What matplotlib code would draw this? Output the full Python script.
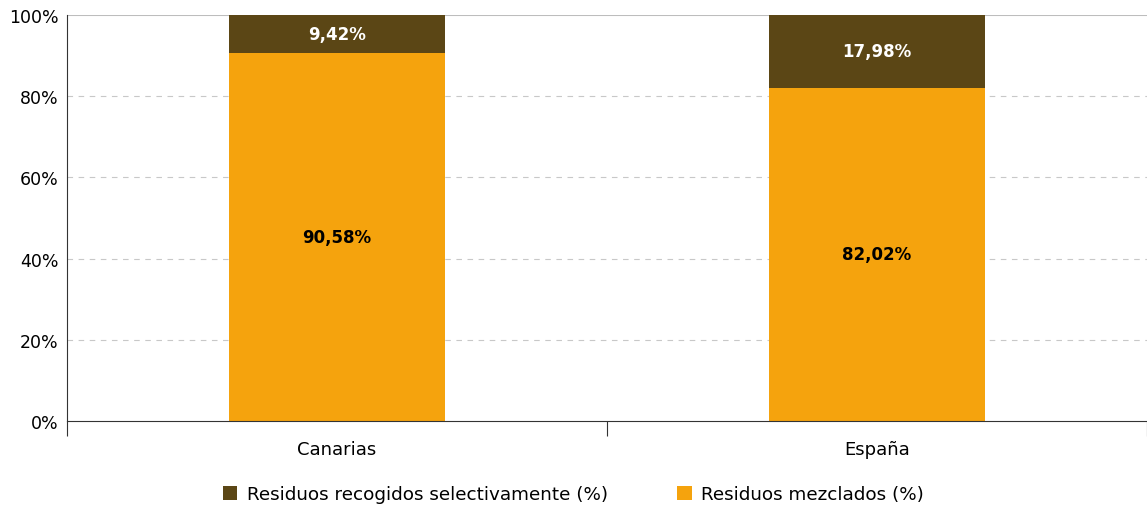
import matplotlib
matplotlib.use("Agg")
import matplotlib.pyplot as plt
from matplotlib.ticker import FuncFormatter

categories = ["Canarias", "España"]
mezclados = [90.58, 82.02]
selectivos = [9.42, 17.98]
labels_mez = ["90,58%", "82,02%"]
labels_sel = ["9,42%", "17,98%"]
yticks = [0, 20, 40, 60, 80, 100]

c_sel = "#5B4615"
c_mez = "#F5A30D"

plt.rcParams['font.family'] = ['DejaVu Sans']
fig = plt.figure(figsize=(11.47, 5.10), dpi=100)
ax = fig.add_axes([67/1147, 88/510, 1 - 67/1147, (422-16)/510])

x = list(range(len(categories)))
ax.bar(x, mezclados, width=0.4, color=c_mez, zorder=2, label="Residuos mezclados (%)")
ax.bar(x, selectivos, width=0.4, bottom=mezclados, color=c_sel, zorder=2,
       label="Residuos recogidos selectivamente (%)")

for i in x:
    ax.text(i, mezclados[i] / 2, labels_mez[i], ha="center", va="center",
            fontsize=12, fontweight="bold", color="black", zorder=3)
    ax.text(i, mezclados[i] + selectivos[i] / 2, labels_sel[i], ha="center", va="center",
            fontsize=12, fontweight="bold", color="white", zorder=3)

ax.set_xlim(-0.5, 1.5)
ax.set_ylim(0, 100)
ax.set_yticks(yticks)
ax.yaxis.set_major_formatter(FuncFormatter(lambda v, p: f"{int(v)}%"))
ax.tick_params(axis="y", length=0, labelsize=12.5, pad=6)
for v in yticks[1:-1]:
    ax.axhline(v, color="#C8C8C8", linestyle=(0, (5, 5)), linewidth=0.8, zorder=1)
ax.axhline(100, color="#BDBDBD", linewidth=1.5, zorder=1)

ax.set_xticks(x)
ax.set_xticklabels(categories, fontsize=13)
ax.tick_params(axis="x", length=0, pad=14)
ax.set_xticks([-0.5, 0.5, 1.5], minor=True)
ax.tick_params(axis="x", which="minor", length=11, width=0.8, color="#333333")

for s in ["top", "right"]:
    ax.spines[s].set_visible(False)
ax.spines["left"].set_color("#333333")
ax.spines["bottom"].set_color("#333333")
ax.spines["left"].set_linewidth(0.8)
ax.spines["bottom"].set_linewidth(0.8)

handles, lbls = ax.get_legend_handles_labels()
leg = fig.legend(handles[::-1], lbls[::-1], loc="center", bbox_to_anchor=(0.5, 15/510),
                 ncol=2, frameon=False, fontsize=13.2, handlelength=0.8, handleheight=0.8,
                 columnspacing=3.8, handletextpad=0.5)

fig.savefig("out.png", dpi=100)
